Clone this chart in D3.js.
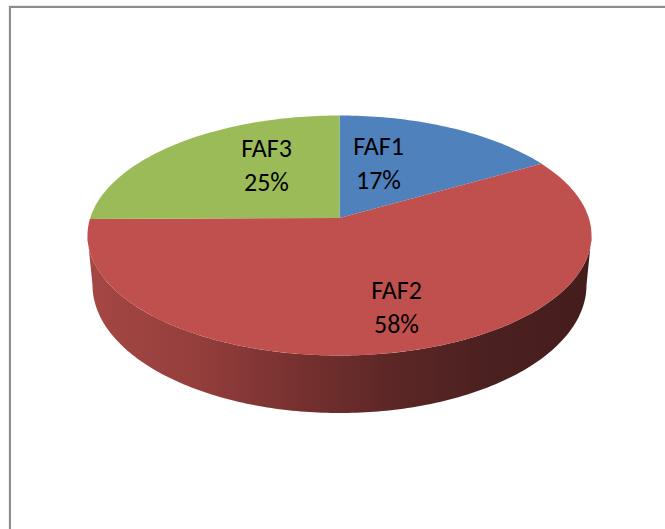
<!DOCTYPE html>
<html>
<head>
<meta charset="utf-8">
<script src="https://cdn.jsdelivr.net/npm/d3@7"></script>
<style>
  html, body { margin: 0; padding: 0; background: #fff; overflow: hidden; }
  text { font-family: Carlito, "Open Sans", "Liberation Sans", sans-serif; fill: #000; }
</style>
</head>
<body>
<div id="chart"></div>
<script>
var categories = ["FAF1", "FAF2", "FAF3"];
var percentLabels = ["17%", "58%", "25%"];
// wedge sizes as measured off the tilted pie (perspective makes them differ from the labels)
var sliceShares = [14.8, 62.4, 22.8];
var sliceColors = ["#4f81bd", "#c0504d", "#9bbb59"];
var wallStops = ["#a54744", "#963f3d", "#793230", "#5c2726", "#4b2020", "#451d1c"];
var labelOffsets = [[39, -73], [57, 71], [-73, -71]];

var width = 665, height = 529;
var cx = 339.5, cy = 235.5, rx = 252, ry = 120;
// perspective: the slices meet above the middle of the ellipse
var apexY = 218;
// base of the pie is a bit narrower than the top face
var baseCy = 285, baseRx = 247, baseRy = 128;

var svg = d3.select("#chart").append("svg")
    .attr("width", width)
    .attr("height", height);

// frame, only top and left edges are inside the crop
svg.append("rect").attr("x", 8.5).attr("y", 5.5).attr("width", 1).attr("height", height).attr("fill", "#e4e4e4");
svg.append("rect").attr("x", 8.5).attr("y", 5.5).attr("width", width).attr("height", 1).attr("fill", "#d8d8d8");
svg.append("path")
    .attr("d", "M10," + height + "V7H" + width)
    .attr("fill", "none")
    .attr("stroke", "#8c8c8c")
    .attr("stroke-width", 2);

var grad = svg.append("defs").append("linearGradient")
    .attr("id", "wall")
    .attr("gradientUnits", "userSpaceOnUse")
    .attr("x1", cx - rx).attr("x2", cx + rx)
    .attr("y1", 0).attr("y2", 0);

grad.selectAll("stop")
    .data(wallStops)
    .enter().append("stop")
    .attr("offset", function(d, i) { return i / (wallStops.length - 1); })
    .attr("stop-color", function(d) { return d; });

var pie = d3.pie().sort(null).value(function(d) { return d; });
var slices = pie(sliceShares);

// side wall: front half of the top ellipse joined to front half of the base
var wallAngles = d3.range(Math.PI / 2, Math.PI * 1.5 + 0.001, Math.PI / 180);
var wall = d3.area()
    .x0(function(a) { return cx + rx * Math.sin(a); })
    .y0(function(a) { return cy - ry * Math.cos(a); })
    .x1(function(a) { return cx + baseRx * Math.sin(a); })
    .y1(function(a) { return baseCy - baseRy * Math.cos(a); });

svg.append("path")
    .attr("d", wall(wallAngles))
    .attr("fill", "url(#wall)");

// top face: rim follows the ellipse, closed back to the apex
function slicePath(d) {
    var steps = d3.range(d.startAngle, d.endAngle, Math.PI / 180).concat([d.endAngle]);
    var rim = steps.map(function(a) {
        return [cx + rx * Math.sin(a), cy - ry * Math.cos(a)];
    });
    return d3.line()([[cx, apexY]].concat(rim)) + "Z";
}

svg.append("g").selectAll("path")
    .data(slices)
    .enter().append("path")
    .attr("d", slicePath)
    .attr("fill", function(d, i) { return sliceColors[i]; });

var labels = svg.selectAll(".label")
    .data(categories)
    .enter().append("text")
    .attr("class", "label")
    .attr("text-anchor", "middle")
    .style("font-size", "26px");

labels.append("tspan")
    .attr("x", function(d, i) { return cx + labelOffsets[i][0]; })
    .attr("y", function(d, i) { return cy + labelOffsets[i][1] - 8; })
    .text(function(d) { return d; });

labels.append("tspan")
    .attr("x", function(d, i) { return cx + labelOffsets[i][0]; })
    .attr("y", function(d, i) { return cy + labelOffsets[i][1] + 26; })
    .text(function(d, i) { return percentLabels[i]; });
</script>
</body>
</html>
